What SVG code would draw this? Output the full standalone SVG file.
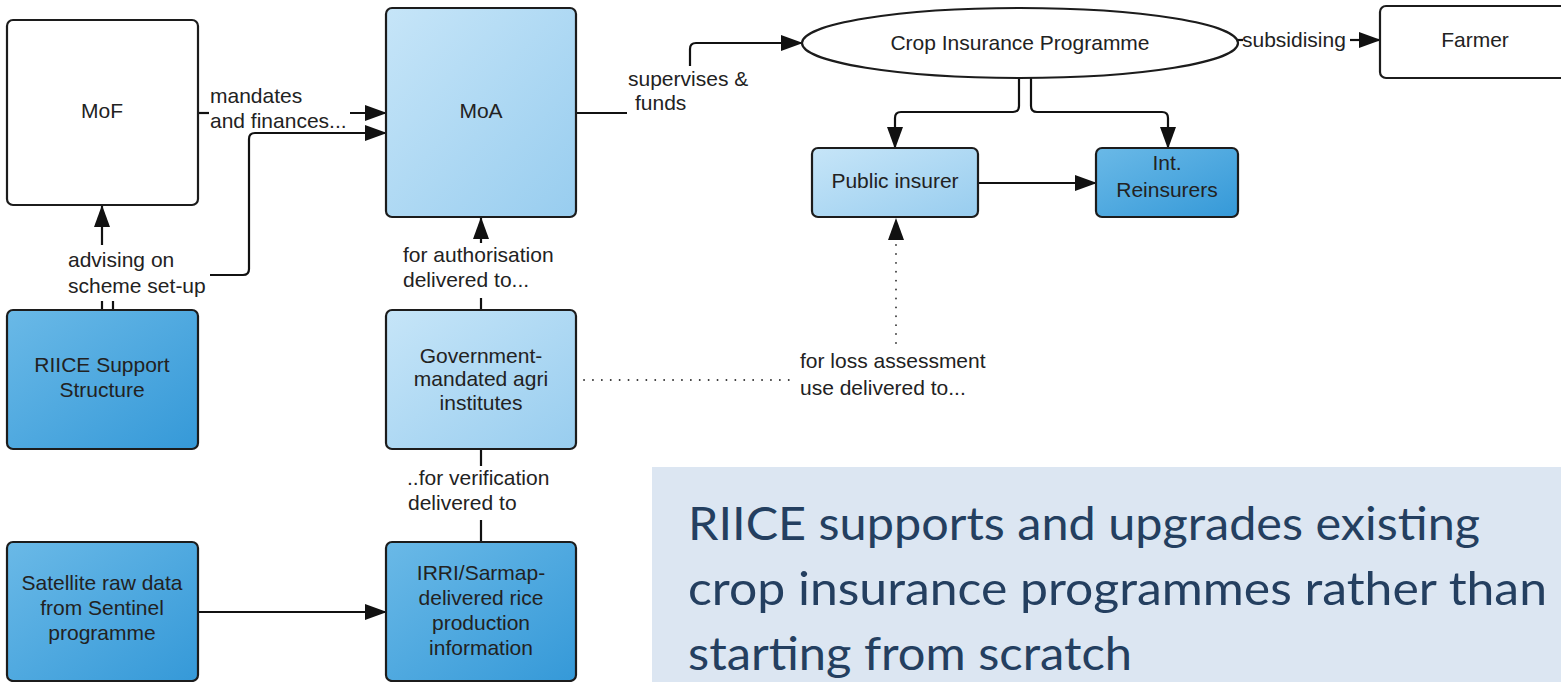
<svg xmlns="http://www.w3.org/2000/svg" width="1561" height="682" viewBox="0 0 1561 682">
  <defs>
    <linearGradient id="gLight" x1="0" y1="0" x2="1" y2="1">
      <stop offset="0" stop-color="#c6e5f8"/>
      <stop offset="1" stop-color="#98cdef"/>
    </linearGradient>
    <linearGradient id="gDark" x1="0" y1="0" x2="1" y2="1">
      <stop offset="0" stop-color="#6ab9e7"/>
      <stop offset="1" stop-color="#3599d8"/>
    </linearGradient>
    <marker id="arrow" markerUnits="userSpaceOnUse" markerWidth="23" markerHeight="17" refX="21" refY="8" orient="auto">
      <path d="M0,0 L22,8 L0,16 z" fill="#111"/>
    </marker>
    <style>
      .box { stroke: #1c1c1c; stroke-width: 2.2; }
      .white { fill: #ffffff; }
      .light { fill: url(#gLight); }
      .dark { fill: url(#gDark); }
      .lbl { font-family: "Liberation Sans", Arial, sans-serif; font-size: 21px; fill: #222; text-anchor: middle; }
      .elbl { font-family: "Liberation Sans", Arial, sans-serif; font-size: 21px; fill: #222; }
      .line { fill: none; stroke: #111; stroke-width: 2.2; }
      .dots { fill: none; stroke: #333; stroke-width: 1.8; stroke-dasharray: 0.1 8.8; stroke-linecap: round; }
      .note { font-family: Lato, "Open Sans", sans-serif; font-size: 47px; fill: #243f60; }
    </style>
  </defs>

  <rect width="1561" height="682" fill="#ffffff"/>

  <!-- connectors -->
  <g id="connectors">
    <!-- MoF to MoA: mandates and finances -->
    <path class="line" d="M198,113 H209"/>
    <path class="line" d="M350,113 H386" marker-end="url(#arrow)"/>
    <!-- RIICE support to MoF / MoA -->
    <path class="line" d="M102,245 V206" marker-end="url(#arrow)"/>
    <path class="line" d="M102,301 V310 M113,301 V310"/>
    <path class="line" d="M210,275 H243 Q249,275 249,269 V139 Q249,133 255,133 H386" marker-end="url(#arrow)"/>
    <!-- MoA to crop insurance programme -->
    <path class="line" d="M576,113 H627"/>
    <path class="line" d="M690,66 V49 Q690,43 696,43 H802" marker-end="url(#arrow)"/>
    <!-- programme to insurers -->
    <path class="line" d="M1019,78 V106 Q1019,112 1013,112 H901 Q895,112 895,118 V148" marker-end="url(#arrow)"/>
    <path class="line" d="M1031,78 V106 Q1031,112 1037,112 H1162 Q1168,112 1168,118 V148" marker-end="url(#arrow)"/>
    <path class="line" d="M978,183 H1096" marker-end="url(#arrow)"/>
    <!-- programme to farmer -->
    <path class="line" d="M1237,40 H1243"/>
    <path class="line" d="M1350,40 H1380" marker-end="url(#arrow)"/>
    <!-- institutes to MoA -->
    <path class="line" d="M481,298 V310"/>
    <path class="line" d="M481,243 V218" marker-end="url(#arrow)"/>
    <!-- IRRI to institutes -->
    <path class="line" d="M481,449 V466"/>
    <path class="line" d="M481,520 V542"/>
    <!-- satellite data to IRRI -->
    <path class="line" d="M198,612 H386" marker-end="url(#arrow)"/>
    <!-- institutes to public insurer (dotted) -->
    <path class="dots" d="M584,380 H796"/>
    <path class="dots" d="M896,343 V242"/>
    <path d="M888,240 L904,240 L896,218 Z" fill="#111" stroke="none"/>

    <!-- edge labels -->
    <text class="elbl" x="210" y="103">mandates</text>
    <text class="elbl" x="210" y="128">and finances...</text>
    <text class="elbl" x="68" y="267">advising on</text>
    <text class="elbl" x="68" y="293">scheme set-up</text>
    <text class="elbl" x="628" y="86">supervises &amp;</text>
    <text class="elbl" x="635" y="110">funds</text>
    <text class="elbl" x="1242" y="47">subsidising</text>
    <text class="elbl" x="403" y="262">for authorisation</text>
    <text class="elbl" x="403" y="287">delivered to...</text>
    <text class="elbl" x="407" y="485">..for verification</text>
    <text class="elbl" x="408" y="510">delivered to</text>
    <text class="elbl" x="800" y="368">for loss assessment</text>
    <text class="elbl" x="800" y="395">use delivered to...</text>
  </g>

  <g id="node-mof">
    <rect class="box white" x="7" y="20" width="191" height="185" rx="6"/>
    <text class="lbl" x="102" y="118">MoF</text>
  </g>

  <g id="node-moa">
    <rect class="box light" x="386" y="8" width="190" height="209" rx="6"/>
    <text class="lbl" x="481" y="118">MoA</text>
  </g>

  <g id="node-programme">
    <ellipse class="box white" cx="1020" cy="43" rx="218" ry="35"/>
    <text class="lbl" x="1020" y="50">Crop Insurance Programme</text>
  </g>

  <g id="node-farmer">
    <rect class="box white" x="1380" y="6" width="200" height="72" rx="6"/>
    <text class="lbl" x="1475" y="47">Farmer</text>
  </g>

  <g id="node-public-insurer">
    <rect class="box light" x="812" y="148" width="166" height="69" rx="6"/>
    <text class="lbl" x="895" y="188">Public insurer</text>
  </g>

  <g id="node-reinsurers">
    <rect class="box dark" x="1096" y="148" width="142" height="69" rx="6"/>
    <text class="lbl" x="1167" y="170">Int.</text>
    <text class="lbl" x="1167" y="197">Reinsurers</text>
  </g>

  <g id="node-riice">
    <rect class="box dark" x="7" y="310" width="191" height="139" rx="6"/>
    <text class="lbl" x="102" y="372">RIICE Support</text>
    <text class="lbl" x="102" y="397">Structure</text>
  </g>

  <g id="node-institutes">
    <rect class="box light" x="386" y="310" width="190" height="139" rx="6"/>
    <text class="lbl" x="481" y="363">Government-</text>
    <text class="lbl" x="481" y="386">mandated agri</text>
    <text class="lbl" x="481" y="410">institutes</text>
  </g>

  <g id="node-satellite">
    <rect class="box dark" x="7" y="542" width="191" height="139" rx="6"/>
    <text class="lbl" x="102" y="590">Satellite raw data</text>
    <text class="lbl" x="102" y="615">from Sentinel</text>
    <text class="lbl" x="102" y="640">programme</text>
  </g>

  <g id="node-irri">
    <rect class="box dark" x="386" y="542" width="190" height="139" rx="6"/>
    <text class="lbl" x="481" y="580">IRRI/Sarmap-</text>
    <text class="lbl" x="481" y="605">delivered rice</text>
    <text class="lbl" x="481" y="630">production</text>
    <text class="lbl" x="481" y="655">information</text>
  </g>

  <!-- summary statement -->
  <g id="summary">
    <rect x="652" y="467" width="909" height="215" fill="#dce6f2"/>
    <text class="note" x="688" y="540" textLength="792" lengthAdjust="spacingAndGlyphs">RIICE supports and upgrades existing</text>
    <text class="note" x="688" y="605" textLength="859" lengthAdjust="spacingAndGlyphs">crop insurance programmes rather than</text>
    <text class="note" x="688" y="670" textLength="444" lengthAdjust="spacingAndGlyphs">starting from scratch</text>
  </g>
</svg>
